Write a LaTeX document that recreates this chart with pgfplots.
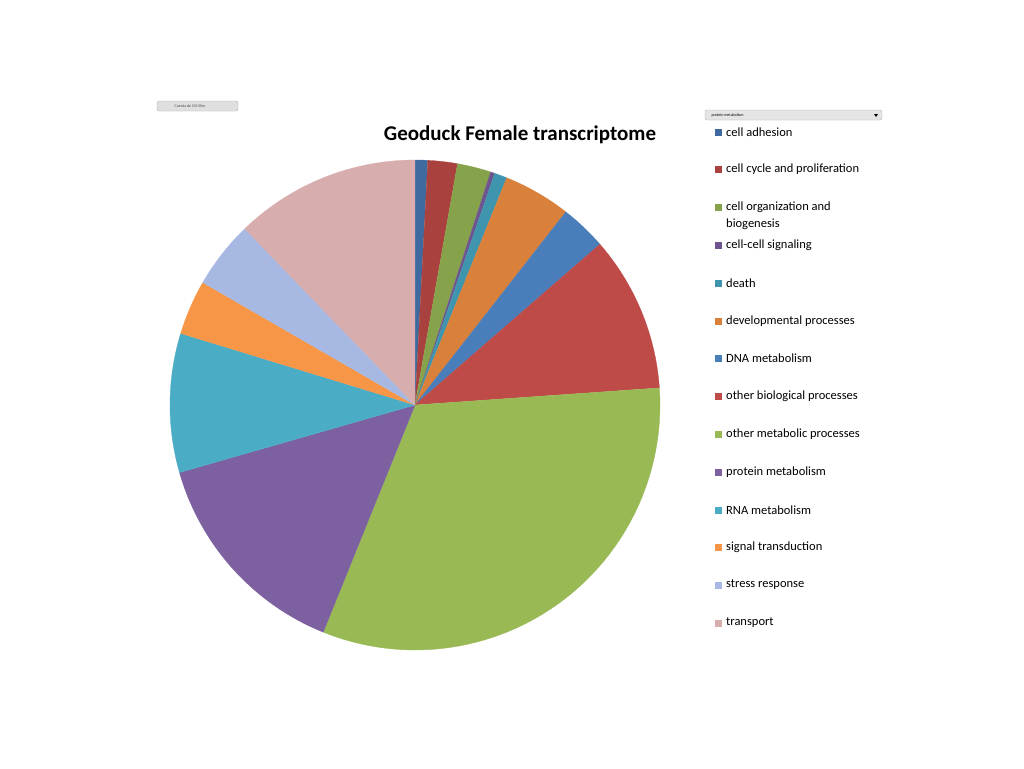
\documentclass[border=0pt]{standalone}
\usepackage{pgfplots}
\pgfplotsset{compat=1.18}
\usepackage{fontspec}
\setmainfont{Carlito}
\definecolor{c1}{HTML}{3F6AA0}
\definecolor{c2}{HTML}{A9423F}
\definecolor{c3}{HTML}{86A24B}
\definecolor{c4}{HTML}{6E558F}
\definecolor{c5}{HTML}{3E95AD}
\definecolor{c6}{HTML}{D9803A}
\definecolor{c7}{HTML}{4A7EBB}
\definecolor{c8}{HTML}{BE4B48}
\definecolor{c9}{HTML}{98B954}
\definecolor{c10}{HTML}{7D60A0}
\definecolor{c11}{HTML}{4BACC6}
\definecolor{c12}{HTML}{F79646}
\definecolor{c13}{HTML}{A7B9E3}
\definecolor{c14}{HTML}{D7AEAD}
\newcommand\pieslice[3]{\addplot[fill=#3,draw=#3,line width=0.3pt,samples at={-1,0,0.02,...,1.001}]
 ({ifthenelse(x<0,0,cos(90-#1-min(x,1)*(#2-#1)))},{ifthenelse(x<0,0,sin(90-#1-min(x,1)*(#2-#1)))});}
\begin{document}
\begin{tikzpicture}[x=1pt,y=1pt]
\fill[white] (0,0) rectangle (1024,-768);
\begin{axis}[hide axis, x=245pt, y=245pt, xmin=-1, xmax=1, ymin=-1, ymax=1,
  at={(415pt,-405pt)}, anchor=center, scale only axis, clip=false]
\pieslice{0}{3}{c1}
\pieslice{3}{10}{c2}
\pieslice{10}{18}{c3}
\pieslice{18}{19}{c4}
\pieslice{19}{22}{c5}
\pieslice{22}{38}{c6}
\pieslice{38}{49}{c7}
\pieslice{49}{86}{c8}
\pieslice{86}{202}{c9}
\pieslice{202}{254}{c10}
\pieslice{254}{287}{c11}
\pieslice{287}{300}{c12}
\pieslice{300}{316}{c13}
\pieslice{316}{360}{c14}
\end{axis}
\node[font=\fontsize{21}{24}\selectfont\bfseries] at (520,-135) {Geoduck Female transcriptome};
\fill[gray!25,draw=gray!60,rounded corners=2pt] (157,-101) rectangle (238,-111);
\node[font=\fontsize{4}{5}\selectfont,gray!60!black] at (190,-106) {Cuenta de GO-Slim};
\fill[gray!20,draw=gray!60,rounded corners=2pt] (705,-110) rectangle (882,-120);
\node[font=\fontsize{4}{5}\selectfont,anchor=west] at (708,-115) {protein metabolism};
\fill[black] (874,-114) -- (878,-114) -- (876,-117) -- cycle;
\foreach \y/\c/\t in {132/c1/cell adhesion,169/c2/cell cycle and proliferation,207/c3/cell organization and,245/c4/cell-cell signaling,283/c5/death,321/c6/developmental processes,358/c7/DNA metabolism,396/c8/other biological processes,434/c9/other metabolic processes,472/c10/protein metabolism,510/c11/RNA metabolism,547/c12/signal transduction,585/c13/stress response,623/c14/transport}{
  \fill[\c] (714.5,-\y-3.5) rectangle (721.5,-\y+3.5);
  \node[anchor=west,font=\fontsize{12.5}{14}\selectfont,inner sep=0] at (726,-\y) {\t};
}
\node[anchor=west,font=\fontsize{12.5}{14}\selectfont,inner sep=0] at (726,-224) {biogenesis};
\end{tikzpicture}
\end{document}
